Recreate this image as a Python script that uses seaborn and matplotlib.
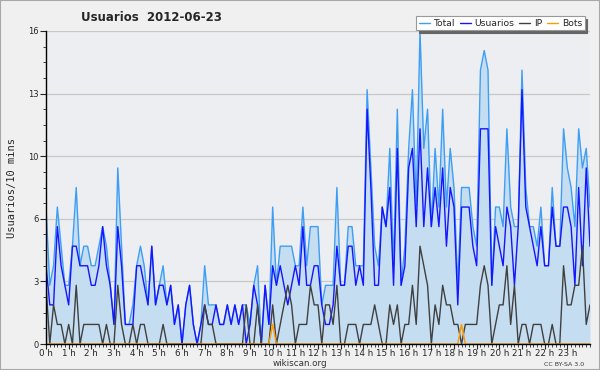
import matplotlib
matplotlib.use("Agg")
import matplotlib.pyplot as plt
from matplotlib.ticker import FixedLocator, MultipleLocator
import seaborn as sns
import pandas as pd
import numpy as np

# 10-minute samples, 00:00 -> 24:00
total = [7, 3, 4, 7, 5, 3, 3, 5, 8, 4, 5, 5, 4, 4, 5, 6, 5, 3, 1, 9, 5, 1, 1, 2,
         4, 5, 4, 2, 5, 2, 3, 4, 2, 3, 1, 2, 0, 2, 3, 1, 0, 1, 4, 2, 2, 2, 1, 1,
         2, 1, 2, 1, 2, 2, 1, 3, 4, 0, 3, 1, 7, 3, 5, 5, 5, 5, 4, 4, 7, 4, 6, 6,
         6, 2, 3, 3, 3, 8, 3, 3, 6, 6, 4, 4, 4, 13, 9, 5, 4, 7, 6, 10, 4, 12, 3, 5,
         10, 13, 7, 16, 10, 12, 6, 10, 7, 12, 7, 10, 8, 3, 8, 8, 8, 6, 5, 14, 15, 14, 3, 7,
         7, 6, 11, 7, 6, 6, 14, 8, 6, 6, 5, 7, 4, 4, 8, 5, 5, 11, 9, 8, 6, 11, 9, 10,
         7]
usuarios = [4, 2, 2, 6, 4, 3, 2, 5, 5, 4, 4, 4, 3, 3, 4, 6, 4, 3, 1, 6, 4, 1, 1, 1,
            4, 4, 3, 2, 5, 2, 3, 3, 2, 3, 1, 2, 0, 2, 3, 1, 0, 1, 2, 1, 1, 2, 1, 1,
            2, 1, 2, 1, 2, 0, 1, 3, 2, 0, 3, 1, 4, 3, 4, 3, 2, 3, 4, 3, 6, 3, 3, 4,
            4, 2, 1, 1, 2, 5, 3, 3, 5, 5, 3, 4, 3, 12, 8, 3, 3, 7, 6, 8, 3, 10, 3, 4,
            9, 10, 6, 11, 6, 9, 6, 8, 6, 9, 5, 8, 7, 2, 7, 7, 7, 5, 4, 11, 11, 11, 3, 6,
            5, 4, 7, 6, 3, 6, 13, 7, 6, 5, 4, 6, 4, 4, 7, 5, 5, 7, 7, 6, 3, 8, 4, 9,
            5]
ip = [3, 0, 2, 1, 1, 0, 1, 0, 3, 0, 1, 1, 1, 1, 1, 0, 1, 0, 0, 3, 1, 0, 0, 1,
      0, 1, 1, 0, 0, 0, 0, 1, 0, 0, 0, 0, 0, 0, 0, 0, 0, 0, 2, 1, 1, 0, 0, 0,
      0, 0, 0, 0, 0, 2, 0, 0, 2, 0, 0, 0, 2, 0, 1, 2, 3, 2, 0, 1, 1, 1, 3, 2,
      2, 0, 2, 2, 1, 3, 0, 0, 1, 1, 1, 0, 1, 1, 1, 2, 1, 0, 0, 2, 1, 2, 0, 1,
      1, 3, 1, 5, 4, 3, 0, 2, 1, 3, 2, 2, 1, 1, 0, 1, 1, 1, 1, 3, 4, 3, 0, 1,
      2, 2, 4, 1, 3, 0, 1, 1, 0, 1, 1, 1, 0, 0, 1, 0, 0, 4, 2, 2, 3, 3, 5, 1,
      2]
bots = [0] * 60 + [1] + [0] * 49 + [1] + [0] * 34

hour_labels = [f"{h} h" for h in range(24)]
ytick_vals = [0, 3.2, 6.4, 9.6, 12.8, 16]
ytick_labels = ["0", "3", "6", "10", "13", "16"]

df = pd.DataFrame({
    "hora": np.arange(len(total)) / 6,
    "Total": total,
    "Usuarios": usuarios,
    "IP": ip,
    "Bots": bots,
})

sns.set_style("white")
plt.rcParams["font.family"] = ["DejaVu Sans"]

fig = plt.figure(figsize=(6, 3.7), dpi=100, facecolor="#f0f0f0")
fig.patches.append(plt.Rectangle((0, 0), 1, 1, transform=fig.transFigure,
                                 fill=False, edgecolor="#a8a8a8", linewidth=1.5))
ax = fig.add_axes([46 / 600, 26 / 370, 544 / 600, 313 / 370])
ax.set_facecolor("#eceef1")

ax.fill_between(df["hora"], 0, df["Total"], color="#c5ddf1", linewidth=0)
colors = {"Total": "#3d9ef5", "Usuarios": "#1515ff", "IP": "#404040", "Bots": "#ff9a00"}
for name in ["Total", "Usuarios", "IP", "Bots"]:
    sns.lineplot(data=df, x="hora", y=name, color=colors[name], linewidth=1.0,
                 ax=ax, label=name, legend=False)

ax.set_xlim(0, 24)
ax.set_ylim(0, 16)
ax.set_xticks(range(24))
ax.set_xticklabels(hour_labels, fontsize=6.3)
ax.xaxis.set_minor_locator(MultipleLocator(1 / 6))
ax.yaxis.set_major_locator(FixedLocator(ytick_vals))
ax.set_yticklabels(ytick_labels, fontsize=6)
ax.yaxis.set_minor_locator(MultipleLocator(0.8))
ax.tick_params(axis="x", which="major", length=3.5, width=0.8, direction="out", pad=0,
               bottom=True)
ax.tick_params(axis="y", which="major", length=4, width=0.8, direction="out", pad=1,
               left=True)
ax.tick_params(axis="both", which="minor", length=2.5, width=0.6, direction="out",
               bottom=True, left=True)
ax.grid(axis="y", color="#c8c8c8", linewidth=0.9)
ax.set_axisbelow(True)
for s in ["top", "right"]:
    ax.spines[s].set_visible(False)
for s in ["left", "bottom"]:
    ax.spines[s].set_color("black")
    ax.spines[s].set_linewidth(1.0)

ax.set_xlabel("")
ax.set_ylabel("Usuarios/10 mins", fontsize=7.5, family="DejaVu Sans Mono", labelpad=8)

fig.text(0.252, 0.952, "Usuarios  2012-06-23", fontsize=8.5, fontweight="bold",
         ha="center", va="center")
fig.text(0.5, 0.017, "wikiscan.org", fontsize=6.3, color="#333333", ha="center", va="center")
fig.text(0.94, 0.014, "CC BY-SA 3.0", fontsize=4.5, color="#333333", ha="center", va="center")

handles, labels = ax.get_legend_handles_labels()
leg = fig.legend(handles, labels, loc="upper right", bbox_to_anchor=(0.982, 0.968),
                 ncol=4, fontsize=6.7, frameon=True, fancybox=False, handlelength=1.2,
                 handletextpad=0.4, columnspacing=0.5, borderpad=0.25,
                 shadow={"color": "#666666", "alpha": 1.0})
leg.get_frame().set_edgecolor("#999999")
leg.get_frame().set_linewidth(0.8)

fig.savefig("out.png", dpi=100, facecolor=fig.get_facecolor())
